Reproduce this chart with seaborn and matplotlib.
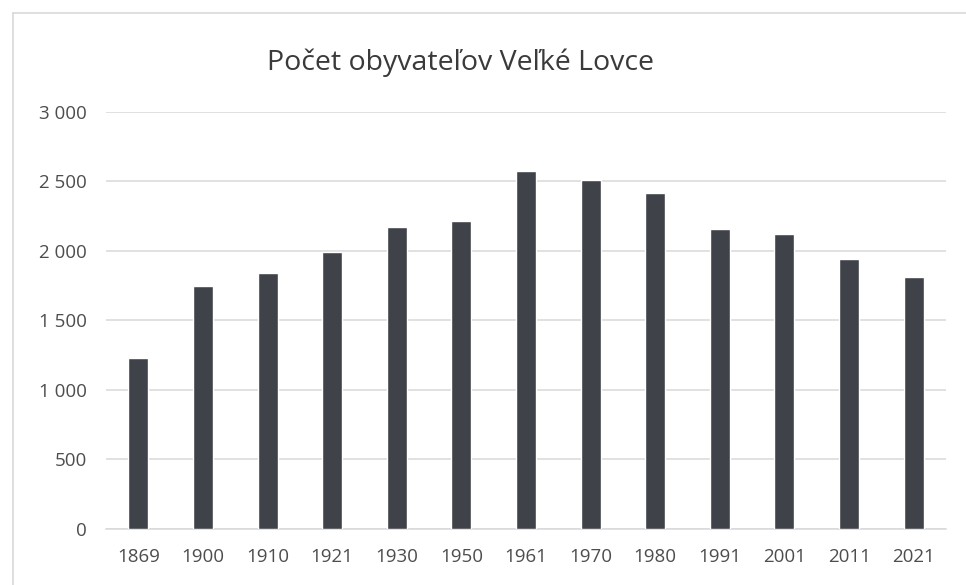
import matplotlib
matplotlib.use("Agg")
import matplotlib.pyplot as plt
import matplotlib.ticker as mticker
from matplotlib.lines import Line2D
import seaborn as sns
import pandas as pd

years = ["1869", "1900", "1910", "1921", "1930", "1950", "1961",
         "1970", "1980", "1991", "2001", "2011", "2021"]
population = [1230, 1748, 1842, 1992, 2170, 2215, 2578,
              2512, 2415, 2160, 2122, 1942, 1812]
y_ticks = [0, 500, 1000, 1500, 2000, 2500, 3000]
title = "Počet obyvateľov Veľké Lovce"

df = pd.DataFrame({"year": years, "population": population})

sns.set_theme(style="white")
plt.rcParams["font.family"] = ["Open Sans", "DejaVu Sans"]

fig = plt.figure(figsize=(9.66, 5.85), dpi=100)
fig.patch.set_facecolor("white")
ax = fig.add_axes([106 / 966, 1 - 528.5 / 585, (946 - 106) / 966, (528.5 - 112) / 585])

sns.barplot(data=df, x="year", y="population", color="#3f4249",
            width=0.31, saturation=1, ax=ax, zorder=3)

ax.set_ylim(0, 3000)
ax.set_yticks(y_ticks)
ax.yaxis.set_major_formatter(mticker.FuncFormatter(lambda v, p: f"{int(v):,}".replace(",", " ")))
ax.grid(axis="y", color="#d9d9d9", linewidth=1.1, zorder=0)
ax.grid(axis="x", visible=False)
for s in ["top", "right", "left"]:
    ax.spines[s].set_visible(False)
ax.spines["bottom"].set_color("#d9d9d9")
ax.spines["bottom"].set_linewidth(1.1)
ax.set_xlabel("")
ax.set_ylabel("")
ax.tick_params(axis="both", length=0, labelsize=13.5, labelcolor="#4d4d4d")
ax.tick_params(axis="y", pad=14)
ax.tick_params(axis="x", pad=14)
for lab in ax.get_yticklabels():
    lab.set_horizontalalignment("right")

fig.text(0.477, 1 - 63 / 585, title, ha="center", va="center",
         fontsize=20.5, color="#3a3a3a")

# chart frame lines (top & left)
fig.add_artist(Line2D([13 / 966, 1], [1 - 13 / 585, 1 - 13 / 585],
                      transform=fig.transFigure, color="#d9d9d9", linewidth=1.2))
fig.add_artist(Line2D([13 / 966, 13 / 966], [0, 1 - 13 / 585],
                      transform=fig.transFigure, color="#d9d9d9", linewidth=1.2))

fig.savefig("out.png", dpi=100)
